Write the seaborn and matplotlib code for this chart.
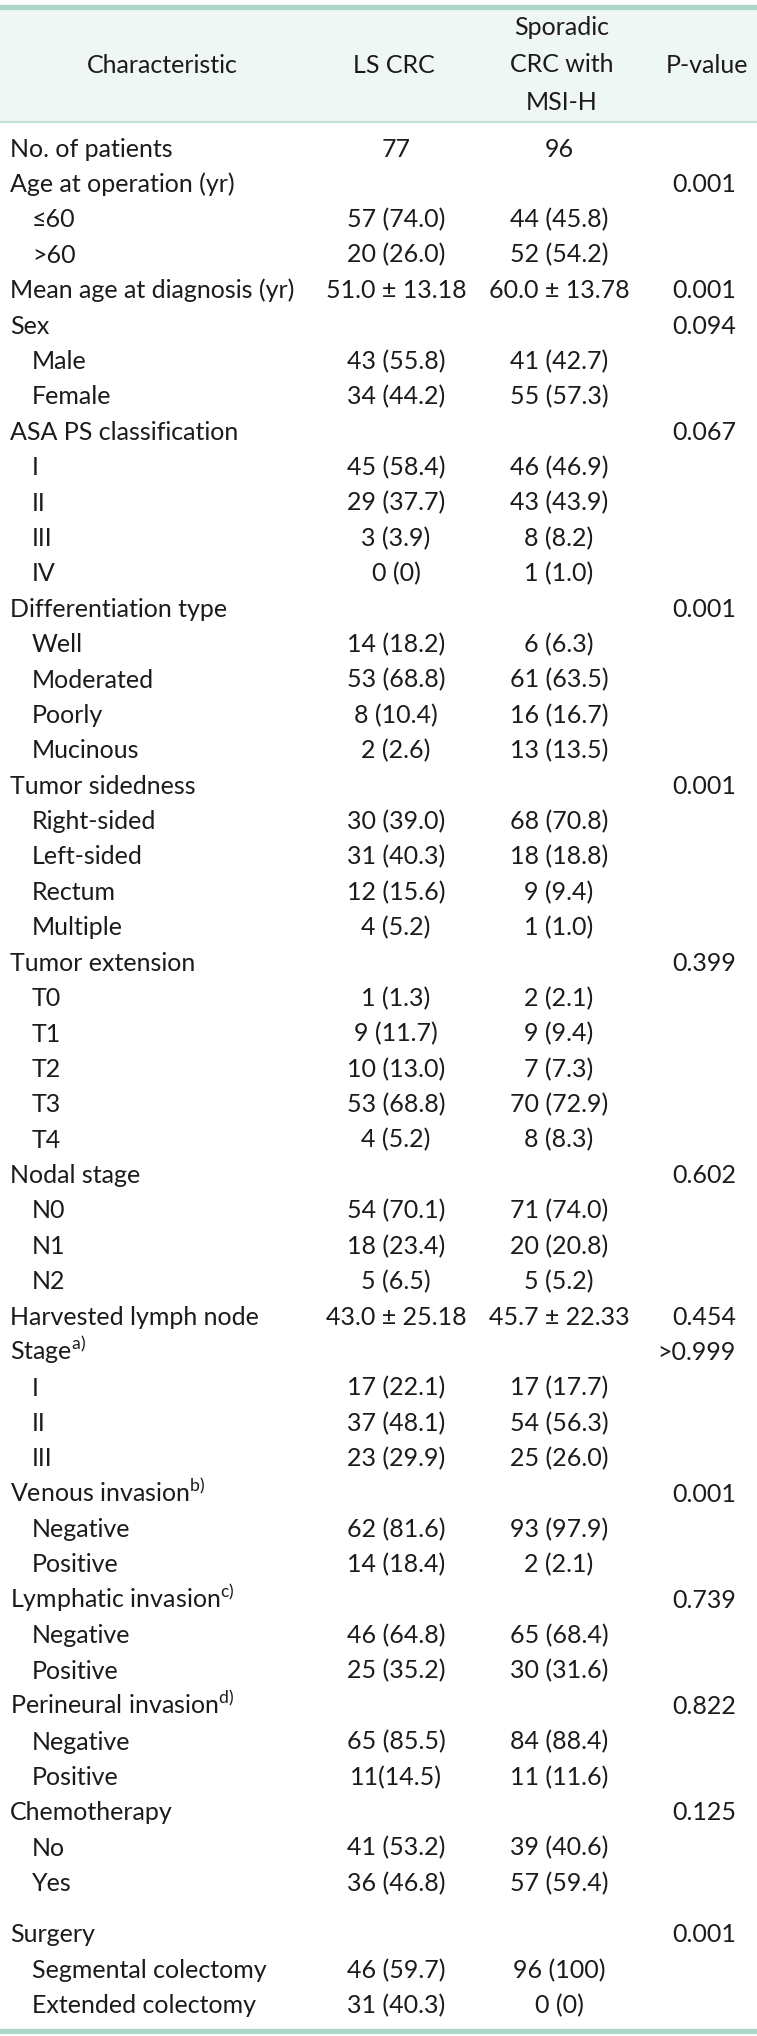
import matplotlib
matplotlib.use("Agg")
import matplotlib.pyplot as plt
import seaborn as sns

# Table content
header_cols = ["Characteristic", "LS CRC", ["Sporadic", "CRC with", "MSI-H"], "P-value"]

labels = [
    "No. of patients", "Age at operation (yr)", "≤60", ">60", "Mean age at diagnosis (yr)",
    "Sex", "Male", "Female",
    "ASA PS classification", "I", "II", "III", "IV",
    "Differentiation type", "Well", "Moderated", "Poorly", "Mucinous",
    "Tumor sidedness", "Right-sided", "Left-sided", "Rectum", "Multiple",
    "Tumor extension", "T0", "T1", "T2", "T3", "T4",
    "Nodal stage", "N0", "N1", "N2",
    "Harvested lymph node",
    "Stage", "I", "II", "III",
    "Venous invasion", "Negative", "Positive",
    "Lymphatic invasion", "Negative", "Positive",
    "Perineural invasion", "Negative", "Positive",
    "Chemotherapy", "No", "Yes",
    "Surgery", "Segmental colectomy", "Extended colectomy",
]
indented = [
    0, 0, 1, 1, 0,
    0, 1, 1,
    0, 1, 1, 1, 1,
    0, 1, 1, 1, 1,
    0, 1, 1, 1, 1,
    0, 1, 1, 1, 1, 1,
    0, 1, 1, 1,
    0,
    0, 1, 1, 1,
    0, 1, 1,
    0, 1, 1,
    0, 1, 1,
    0, 1, 1,
    0, 1, 1,
]
footnotes = {34: "a)", 38: "b)", 41: "c)", 44: "d)"}

ls_crc = [
    "77", "", "57 (74.0)", "20 (26.0)", "51.0 ± 13.18",
    "", "43 (55.8)", "34 (44.2)",
    "", "45 (58.4)", "29 (37.7)", "3 (3.9)", "0 (0)",
    "", "14 (18.2)", "53 (68.8)", "8 (10.4)", "2 (2.6)",
    "", "30 (39.0)", "31 (40.3)", "12 (15.6)", "4 (5.2)",
    "", "1 (1.3)", "9 (11.7)", "10 (13.0)", "53 (68.8)", "4 (5.2)",
    "", "54 (70.1)", "18 (23.4)", "5 (6.5)",
    "43.0 ± 25.18",
    "", "17 (22.1)", "37 (48.1)", "23 (29.9)",
    "", "62 (81.6)", "14 (18.4)",
    "", "46 (64.8)", "25 (35.2)",
    "", "65 (85.5)", "11(14.5)",
    "", "41 (53.2)", "36 (46.8)",
    "", "46 (59.7)", "31 (40.3)",
]
sporadic = [
    "96", "", "44 (45.8)", "52 (54.2)", "60.0 ± 13.78",
    "", "41 (42.7)", "55 (57.3)",
    "", "46 (46.9)", "43 (43.9)", "8 (8.2)", "1 (1.0)",
    "", "6 (6.3)", "61 (63.5)", "16 (16.7)", "13 (13.5)",
    "", "68 (70.8)", "18 (18.8)", "9 (9.4)", "1 (1.0)",
    "", "2 (2.1)", "9 (9.4)", "7 (7.3)", "70 (72.9)", "8 (8.3)",
    "", "71 (74.0)", "20 (20.8)", "5 (5.2)",
    "45.7 ± 22.33",
    "", "17 (17.7)", "54 (56.3)", "25 (26.0)",
    "", "93 (97.9)", "2 (2.1)",
    "", "65 (68.4)", "30 (31.6)",
    "", "84 (88.4)", "11 (11.6)",
    "", "39 (40.6)", "57 (59.4)",
    "", "96 (100)", "0 (0)",
]
p_values = [
    "", "0.001", "", "", "0.001",
    "0.094", "", "",
    "0.067", "", "", "", "",
    "0.001", "", "", "", "",
    "0.001", "", "", "", "",
    "0.399", "", "", "", "", "",
    "0.602", "", "", "",
    "0.454",
    ">0.999", "", "", "",
    "0.001", "", "",
    "0.739", "", "",
    "0.822", "", "",
    "0.125", "", "",
    "0.001", "", "",
]

sns.set_theme(style="white")
plt.rcParams["font.family"] = ["Lato", "DejaVu Sans"]
plt.rcParams["mathtext.fontset"] = "custom"
plt.rcParams["mathtext.rm"] = "Lato"

W, H = 757, 2036
fig = plt.figure(figsize=(W / 100, H / 100), dpi=100)
ax = fig.add_axes([0, 0, 1, 1])
ax.set_xlim(0, W)
ax.set_ylim(H, 0)
ax.axis("off")

txt = "#1e1a1b"
rule = "#aad9c7"
fs = 18
off = 8.5  # centre -> baseline

# header band and rules
ax.axhspan(9, 122, color="#eef7f3", zorder=0)
ax.axhline(6.5, color=rule, lw=3.8)
ax.axhline(122, color="#b6dfd0", lw=1.2)
ax.axhline(2031, color=rule, lw=3.8)

# header text
col_x = [162, 394, 562, 707]
for x, h in zip(col_x, header_cols):
    if isinstance(h, list):
        for k, line in enumerate(h):
            ax.text(x, 26 + k * 37.5 + off, line, ha="center", va="baseline",
                    fontsize=fs, color=txt)
    else:
        ax.text(x, 64 + off, h, ha="center", va="baseline", fontsize=fs, color=txt)

# body rows
y0, step = 148, 35.4
for i, lab in enumerate(labels):
    y = y0 + i * step + (16 if i >= 50 else 0)
    yb = y + off
    label = lab
    if i in footnotes:
        label = lab + r"$^{\mathrm{" + footnotes[i] + "}}$"
    ax.text(32 if indented[i] else 10, yb, label, ha="left", va="baseline",
            fontsize=fs, color=txt)
    if ls_crc[i]:
        ax.text(396, yb, ls_crc[i], ha="center", va="baseline", fontsize=fs, color=txt)
    if sporadic[i]:
        ax.text(559, yb, sporadic[i], ha="center", va="baseline", fontsize=fs, color=txt)
    if p_values[i]:
        ax.text(736, yb, p_values[i], ha="right", va="baseline", fontsize=fs, color=txt)

fig.savefig("out.png", dpi=100)
plt.close(fig)
